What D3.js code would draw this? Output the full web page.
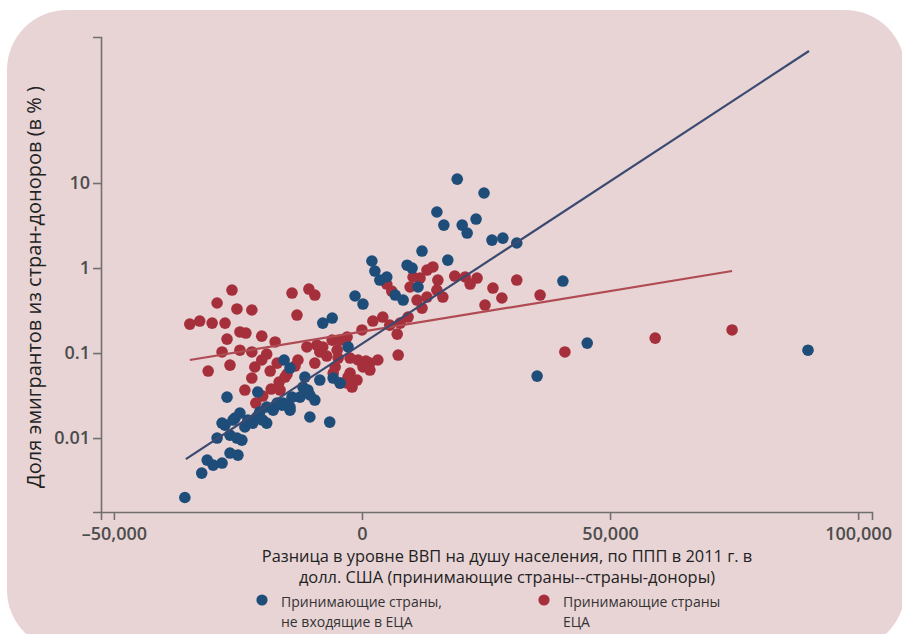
<!DOCTYPE html>
<html>
<head>
<meta charset="utf-8">
<script src="https://cdn.jsdelivr.net/npm/d3@7"></script>
<style>
  body { margin: 0; background: #fff; }
  svg { display: block; font-family: "Open Sans", sans-serif; }
</style>
</head>
<body>
<div id="chart"></div>
<script>
// GDP gap (USD, PPP 2011) vs emigrant share (%), two host groups
const nonEcaPoints = [
  [-35700, 0.0020], [-32300, 0.00387], [-31200, 0.00551], [-30000, 0.00481], [-28200, 0.00508],
  [-29200, 0.0100], [-27600, 0.0142], [-25600, 0.0172], [-26600, 0.0108], [-24200, 0.00946],
  [-25000, 0.0063], [-23600, 0.0135], [-23000, 0.0163], [-21200, 0.0177], [-19200, 0.0150],
  [-20600, 0.0202], [-17900, 0.0213], [-16100, 0.0244], [-14500, 0.0213], [-10500, 0.0177],
  [-27200, 0.0303], [-21000, 0.0348], [-6500, 0.0154], [-15900, 0.0258], [-12500, 0.0303],
  [-10900, 0.0367], [-9500, 0.0280], [-14100, 0.0303], [-11900, 0.0398], [-10500, 0.0321],
  [-8500, 0.0481], [-5800, 0.0508], [-15700, 0.0828], [-14500, 0.0666], [-11500, 0.0522],
  [-2800, 0.118], [-7900, 0.225], [-6000, 0.258], [-1400, 0.469], [200, 0.377],
  [2000, 1.21], [2600, 0.922], [3600, 0.722], [5000, 0.784], [9100, 1.08],
  [10100, 1.0], [12100, 1.585], [17300, 1.24], [15100, 4.56], [16500, 3.2],
  [20200, 3.2], [21200, 2.58], [23000, 3.77], [19200, 11.1], [24600, 7.63],
  [26200, 2.13], [28400, 2.25], [31200, 1.97], [40500, 0.703], [35300, 0.0536],
  [45400, 0.131], [89900, 0.108], [6700, 0.481], [8300, 0.42], [11300, 0.598],
  [-22000, 0.0150], [-20000, 0.0163], [-26000, 0.0163], [-28200, 0.0150], [-26600, 0.00666],
  [-25200, 0.0100], [-4400, 0.0444], [-19200, 0.0232], [-17100, 0.0258], [-14500, 0.0232],
  [-24600, 0.0197]
];

const ecaPoints = [
  [-34700, 0.219], [-32700, 0.238], [-30200, 0.225], [-27600, 0.225], [-29200, 0.388],
  [-26200, 0.551], [-25200, 0.33], [-22200, 0.321], [-14100, 0.508], [-10700, 0.566],
  [-9500, 0.481], [-13100, 0.28], [-24600, 0.177], [-23400, 0.172], [-27200, 0.146],
  [-20200, 0.158], [-17500, 0.135], [-28200, 0.103], [-24600, 0.108], [-22200, 0.103],
  [-19200, 0.0973], [-26600, 0.0722], [-31000, 0.0614], [-21600, 0.0685], [-18500, 0.0614],
  [-20200, 0.0828], [-22200, 0.0508], [-23600, 0.0367], [-17100, 0.0762], [-15500, 0.0522],
  [-16500, 0.0367], [-11100, 0.118], [-9100, 0.124], [-7900, 0.118], [-6000, 0.142],
  [-5000, 0.108], [-5400, 0.0685], [200, 0.0685], [-2400, 0.0582], [-3000, 0.0444],
  [-1000, 0.0481], [1600, 0.0762], [7300, 0.0947], [0, 0.187], [2200, 0.238],
  [4200, 0.265], [5600, 0.213], [7100, 0.167], [7700, 0.225], [9300, 0.265],
  [5000, 0.648], [6000, 0.536], [9700, 0.598], [11100, 0.42], [12100, 0.338],
  [10300, 0.784], [13100, 0.947], [14300, 1.03], [15300, 0.722], [15100, 0.551],
  [16300, 0.456], [13100, 0.456], [11700, 0.763], [18700, 0.805], [20800, 0.784],
  [21800, 0.648], [23200, 0.763], [24800, 0.367], [26400, 0.582], [28200, 0.444],
  [31200, 0.722], [35900, 0.481], [40900, 0.103], [59100, 0.15], [74600, 0.187],
  [-21400, 0.0258], [-20000, 0.0312], [-18300, 0.0377], [-16700, 0.0456], [-15100, 0.0566],
  [-13500, 0.0703], [-12900, 0.0828], [-9500, 0.0762], [-5800, 0.0582], [-2800, 0.0522],
  [-4400, 0.0444], [-2000, 0.0398], [1600, 0.0631], [-7100, 0.0922], [-4800, 0.0873],
  [-2400, 0.0873], [-800, 0.0828], [800, 0.0805], [3200, 0.0828], [-4400, 0.142],
  [-8500, 0.103], [-3000, 0.154]
];

// fitted lines (end points)
const nonEcaFit = [[-35500, 0.00566], [90100, 357]];
const ecaFit = [[-34700, 0.0828], [74600, 0.922]];

const xTicks = [-50000, 0, 50000, 100000];
const xTickLabels = ["\u201350,000", "0", "50,000", "100,000"];
const yTicks = [0.01, 0.1, 1, 10];
const yTickLabels = ["0.01", "0.1", "1", "10"];

const yTitle = "Доля эмигрантов из стран-доноров (в % )";
const xTitle = ["Разница в уровне ВВП на душу населения, по ППП в 2011 г. в",
                "долл. США (принимающие страны--страны-доноры)"];
const legendItems = [
  { label: ["Принимающие страны,", "не входящие в ЕЦА"], color: "#1f4d79" },
  { label: ["Принимающие страны", "ЕЦА"], color: "#a5303b" }
];

const W = 902, H = 634;
const svg = d3.select("#chart").append("svg").attr("width", W).attr("height", H);

// card background
svg.append("rect").attr("x", 7).attr("y", 10).attr("width", 898).attr("height", 640)
  .attr("rx", 60).attr("ry", 60).attr("fill", "#e8d4d5");

const x = d3.scaleLinear().domain([-52600, 102800]).range([101, 872]);
const y = d3.scaleLog().domain([0.00135, 522]).range([512, 37]);

const axisColor = "#707070";

const gx = svg.append("g").attr("transform", "translate(0,512)")
  .call(d3.axisBottom(x).tickValues(xTicks).tickFormat((d, i) => xTickLabels[i])
    .tickSizeOuter(0).tickSize(8).tickPadding(7));
const gy = svg.append("g").attr("transform", "translate(101,0)")
  .call(d3.axisLeft(y).tickValues(yTicks).tickFormat((d, i) => yTickLabels[i])
    .tickSizeOuter(0).tickSize(8).tickPadding(3));

[gx, gy].forEach(g => {
  g.select(".domain").attr("stroke", axisColor).attr("stroke-width", 1.6);
  g.selectAll(".tick line").attr("stroke", axisColor).attr("stroke-width", 1.6);
  g.selectAll(".tick text").attr("fill", "#4d4d4d").style("font-size", "18px")
    .style("font-weight", 600).style("font-family", "\"Open Sans\", sans-serif");
});

const line = d3.line().x(d => x(d[0])).y(d => y(d[1]));

const drawDots = (pts, color) => {
  svg.append("g").selectAll("circle").data(pts).join("circle")
    .attr("cx", d => x(d[0])).attr("cy", d => y(d[1])).attr("r", 5.8)
    .attr("fill", color);
};

drawDots(ecaPoints, legendItems[1].color);
drawDots(nonEcaPoints, legendItems[0].color);

svg.append("path").datum(ecaFit).attr("d", line).attr("fill", "none")
  .attr("stroke", "#b04a53").attr("stroke-width", 2.2);
svg.append("path").datum(nonEcaFit).attr("d", line).attr("fill", "none")
  .attr("stroke", "#3b4a70").attr("stroke-width", 2.2);

// titles
svg.append("text").attr("transform", "translate(41,287) rotate(-90)")
  .attr("text-anchor", "middle").attr("fill", "#222").style("font-size", "20px")
  .text(yTitle);

svg.append("g").selectAll("text").data(xTitle).join("text")
  .attr("x", 507).attr("y", (d, i) => 562 + i * 21)
  .attr("text-anchor", "middle").attr("fill", "#222").style("font-size", "16.4px")
  .text(d => d);

// legend
const legendX = [262, 544];
legendItems.forEach((item, i) => {
  const g = svg.append("g");
  g.append("circle").attr("cx", legendX[i]).attr("cy", 600).attr("r", 5.6).attr("fill", item.color);
  g.selectAll("text").data(item.label).join("text")
    .attr("x", legendX[i] + 19).attr("y", (d, j) => 607 + j * 20)
    .attr("fill", "#333").style("font-size", "14px")
    .text(d => d);
});
</script>
</body>
</html>
